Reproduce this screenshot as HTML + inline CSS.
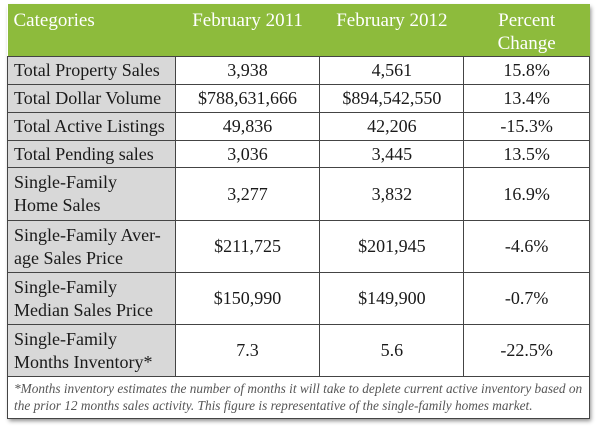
<!DOCTYPE html>
<html><head><style>
body{margin:0;width:600px;height:430px;background:#fff;overflow:hidden;font-family:"Liberation Serif","DejaVu Serif",serif;}
.box{position:absolute;left:7px;top:4px;width:582px;height:414px;box-shadow:2px 3px 4px rgba(0,0,0,.45);background:#fff;}
table{position:absolute;left:7px;top:4px;border-collapse:collapse;width:583px;font-family:"Liberation Serif","DejaVu Serif",serif;}
td{font-family:"Liberation Serif","DejaVu Serif",serif;border:1.3px solid #444;font-size:18px;color:#1a1a1a;text-align:center;padding:0;line-height:23px;}
td.c{text-align:left;background:#d8d8d8;padding-left:6px;}
tr.h td{background:#8dbb3c;color:#fff;border:none;border-bottom:1.3px solid #444;vertical-align:top;padding-top:5px;height:47px;font-size:19px;line-height:23px;}
tr.h td.c{background:#8dbb3c;}
.foot td{text-align:left;font-style:italic;font-size:13.3px;color:#555;line-height:17px;padding:3px 6px 4px 6px;}
</style></head><body>
<div class="box"></div>
<table>
<colgroup><col style="width:168px"><col style="width:145px"><col style="width:144px"><col style="width:126px"></colgroup>
<tr class="h"><td class="c">Categories</td><td>February 2011</td><td>February 2012</td><td>Percent<br>Change</td></tr>
<tr style="height:28px"><td class="c">Total Property Sales</td><td>3,938</td><td>4,561</td><td>15.8%</td></tr>
<tr style="height:28px"><td class="c">Total Dollar Volume</td><td>$788,631,666</td><td>$894,542,550</td><td>13.4%</td></tr>
<tr style="height:28px"><td class="c">Total Active Listings</td><td>49,836</td><td>42,206</td><td>-15.3%</td></tr>
<tr style="height:27px"><td class="c">Total Pending sales</td><td>3,036</td><td>3,445</td><td>13.5%</td></tr>
<tr style="height:53px"><td class="c">Single-Family<br>Home Sales</td><td>3,277</td><td>3,832</td><td>16.9%</td></tr>
<tr style="height:52px"><td class="c">Single-Family Aver-<br>age Sales Price</td><td>$211,725</td><td>$201,945</td><td>-4.6%</td></tr>
<tr style="height:52px"><td class="c">Single-Family<br>Median Sales Price</td><td>$150,990</td><td>$149,900</td><td>-0.7%</td></tr>
<tr style="height:52px"><td class="c">Single-Family<br>Months Inventory*</td><td>7.3</td><td>5.6</td><td>-22.5%</td></tr>
<tr class="foot" style="height:41px"><td colspan="4">*Months inventory estimates the number of months it will take to deplete current active inventory based on<br>the prior 12 months sales activity. This figure is representative of the single-family homes market.</td></tr>
</table>
</body></html>
